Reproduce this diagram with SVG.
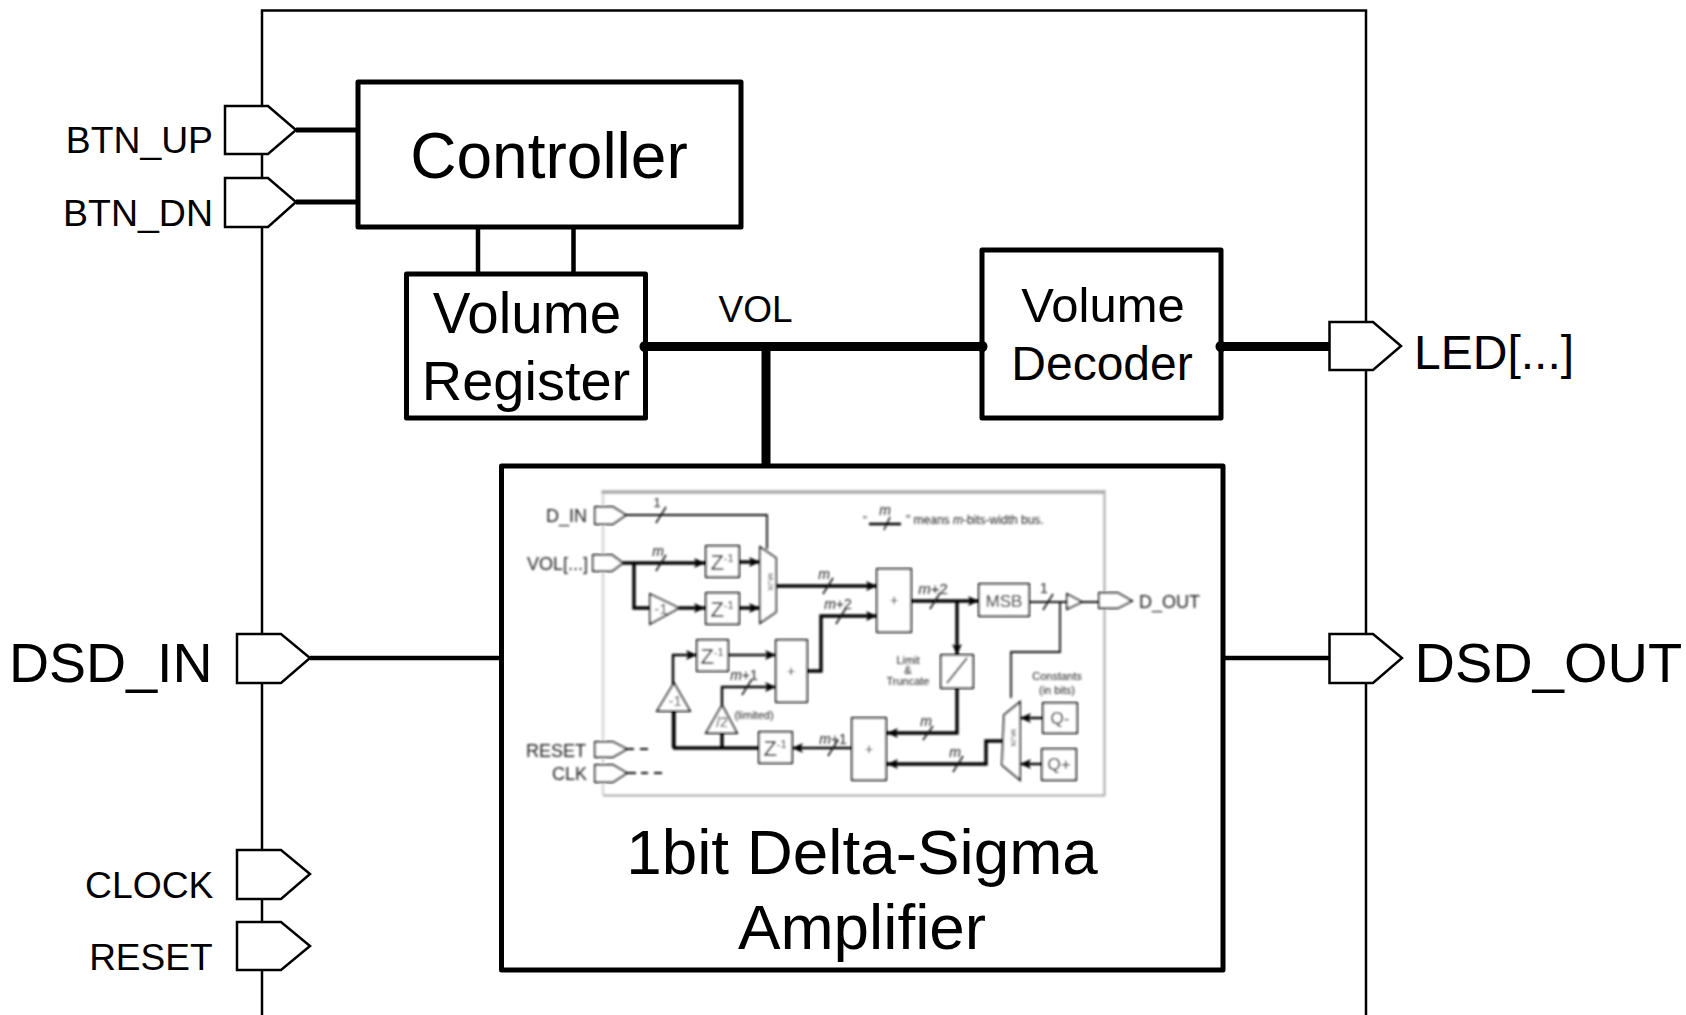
<svg xmlns="http://www.w3.org/2000/svg" width="1686" height="1015" viewBox="0 0 1686 1015">
<style>
text{font-family:"Liberation Sans",Arial,sans-serif;fill:#000}
.box{fill:#fff;stroke:#000;stroke-width:5;stroke-linejoin:round}
.port{fill:#fff;stroke:#000;stroke-width:2.5}
.w{fill:none;stroke:#000;stroke-linecap:butt}
.m{text-anchor:middle}
.e{text-anchor:end}
.ib{fill:#fff;stroke:#111;stroke-width:2}
.ip{fill:#fff;stroke:#111;stroke-width:1.8}
.t{fill:none;stroke:#111;stroke-width:1.8}
.b{fill:none;stroke:#000;stroke-width:3.4}
.a{marker-end:url(#ah)}
.s{fill:none;stroke:#111;stroke-width:1.5}
.lb{fill:#222;font-size:18px}
.sm{fill:#222;font-size:11px}
.mx{fill:#222;font-size:8px;text-anchor:middle}
.zz{fill:#000;font-size:22px;text-anchor:middle}
.zz tspan{font-size:11px}
</style>
<defs>
<marker id="ah" markerUnits="userSpaceOnUse" markerWidth="12" markerHeight="10" refX="11" refY="5" orient="auto"><path d="M0 0L11 5L0 10L2.5 5Z" fill="#000"/></marker>
<filter id="soft" x="-5%" y="-5%" width="110%" height="110%"><feGaussianBlur stdDeviation="1"/></filter>
</defs>
<rect width="1686" height="1015" fill="#fff"/>

<g id="chip-frame"><path d="M262 1015V10.500H1366V1015" fill="none" stroke="#000" stroke-width="2.500"/></g>

<g id="btn-up"><path class="port" d="M225 106H268L296 130L268 154H225Z"/><text x="213" y="153" font-size="37.300" class="e">BTN_UP</text></g>
<g id="btn-dn"><path class="port" d="M225 178H268L296 202L268 227H225Z"/><text x="213" y="226" font-size="37.500" class="e">BTN_DN</text></g>
<g id="dsd-in"><path class="port" d="M237 634H281L310 658L281 683H237Z"/><text x="212.500" y="682" font-size="55.500" class="e">DSD_IN</text></g>
<g id="clock"><path class="port" d="M237 850H281L310 874L281 899H237Z"/><text x="213.500" y="898" font-size="37.300" class="e">CLOCK</text></g>
<g id="reset"><path class="port" d="M237 922H281L310 946L281 970H237Z"/><text x="212.500" y="970" font-size="37" class="e">RESET</text></g>
<g id="led"><path class="port" d="M1329.500 322H1373L1401 346L1373 370H1329.500Z"/><text x="1414" y="369" font-size="48">LED[...]</text></g>
<g id="dsd-out"><path class="port" d="M1329.500 634H1373L1402 658L1373 683H1329.500Z"/><text x="1414.500" y="682" font-size="56">DSD_OUT</text></g>

<g id="controller"><rect class="box" x="358" y="82" width="383" height="145"/><text x="549" y="178" font-size="64" class="m">Controller</text></g>
<g id="volume-register"><rect class="box" x="406.500" y="274" width="239" height="144"/><text x="527" y="333" font-size="56.500" class="m">Volume</text><text x="526" y="400" font-size="56" class="m">Register</text></g>
<g id="vol-label"><text x="718.500" y="322" font-size="37">VOL</text></g>
<g id="volume-decoder"><rect class="box" x="982" y="250" width="239" height="168"/><text x="1103" y="322" font-size="49" class="m">Volume</text><text x="1102" y="380" font-size="48" class="m">Decoder</text></g>

<g id="amplifier"><rect class="box" x="501.500" y="466" width="721.500" height="504"/>
<text x="862" y="873.500" font-size="63.800" class="m">1bit Delta-Sigma</text><text x="862" y="949" font-size="63.800" class="m">Amplifier</text></g>

<g id="connectors">
<path class="w" stroke-width="5" d="M296 130H358M296 202H358"/>
<path class="w" stroke-width="4.500" d="M478 227V274M573.500 227V274"/>
<path class="w" stroke-width="9" d="M645 346.500H982M1221 346.500H1330M766 346V466"/>
<circle cx="645" cy="346.500" r="5.500"/><circle cx="982" cy="346.500" r="5.500"/><circle cx="1221" cy="346.500" r="5.500"/>
<path class="w" stroke-width="4.500" d="M310 658H501M1223 658H1330"/>
</g>

<g id="amplifier-detail" filter="url(#soft)">
<path d="M603 492V795" fill="none" stroke="#ddd" stroke-width="3"/>
<path d="M601.500 492H1104" fill="none" stroke="#aaa" stroke-width="3.500"/>
<path d="M603 795.500H1104.500V490" fill="none" stroke="#aaa" stroke-width="2"/>

<path class="t" d="M626 515H767V549"/>
<path class="b a" d="M623 563H705"/>
<path class="b" d="M634 563V608H650"/>
<path class="b a" d="M679 608H705"/>
<path class="b a" d="M739 562H760"/>
<path class="b a" d="M739 608H760"/>
<path class="b a" d="M776 586H877"/>
<path class="b a" d="M807 671H821V616H877"/>
<path class="t a" d="M728 655H776" style="stroke-width:2.400"/>
<path class="b a" d="M673 748V655H697" style="stroke-width:2.400"/>
<path class="b a" d="M722 705V687H776" style="stroke-width:2.400"/>
<path class="b" d="M673 748H759M674 711V748M722 733V748"/>
<path class="b a" d="M852 748H792" style="stroke-width:2.600"/>
<path class="b a" d="M911 601H979"/>
<path class="b a" d="M957 601V655"/>
<path class="b a" d="M957 688V733H887"/>
<path class="b a" d="M1003 741H986V764H887"/>
<path class="t" d="M1029 602H1067M1060 602V652H1011V698M1082 602H1099"/>
<path class="b a" d="M1043 718H1020" style="stroke-width:2.400"/>
<path class="b a" d="M1042 764H1020" style="stroke-width:2.400"/>
<path class="t" d="M627 749H634M640 749H648M627 773H636M641 773H648M654 773H662"/>
<path class="b" d="M869 524H901" style="stroke-width:2.600"/>

<path class="s" d="M656 523L666 507M656 571L666 555M823 594L833 578M836 624L846 608M930 609L940 593M1043 610L1053 594M923 740L933 726M953 772L963 756M828 756L838 740M742 695L752 679M884 530L890 517"/>

<path class="ip" d="M595 507H613L626 515L613 524H595Z"/>
<path class="ip" d="M593 555H612L623 563L612 571H593Z"/>
<path class="ip" d="M595 742H613L627 749L613 757H595Z"/>
<path class="ip" d="M595 765H613L627 773L613 782H595Z"/>
<path class="ip" d="M1099 593H1118L1132 601L1118 608H1099Z"/>
<path class="ip" d="M1067 594L1082 602L1067 609Z"/>
<path class="ip" d="M650 594L679 608L650 624Z"/>
<path class="ip" d="M674 683L690 711H657Z"/>
<path class="ip" d="M722 705L737 733H706Z"/>
<path class="ip" d="M760 547L776 558V612L760 623Z"/>
<path class="ip" d="M1020 702V780L1002 765L1004 715Z"/>
<rect class="ib" x="706" y="546" width="33" height="31"/>
<rect class="ib" x="706" y="593" width="33" height="31"/>
<rect class="ib" x="697" y="640" width="31" height="31"/>
<rect class="ib" x="759" y="732" width="33" height="31"/>
<rect class="ib" x="776" y="640" width="31" height="62"/>
<rect class="ib" x="877" y="569" width="34" height="63"/>
<rect class="ib" x="852" y="718" width="34" height="62"/>
<rect class="ib" x="979" y="584" width="50" height="32"/>
<rect class="ib" x="941" y="655" width="32" height="33"/>
<path class="t" d="M947 683L967 658"/>
<rect class="ib" x="1043" y="703" width="34" height="30"/>
<rect class="ib" x="1042" y="749" width="34" height="31"/>

<text x="722" y="570" class="zz">Z<tspan dy="-8">-1</tspan></text>
<text x="722" y="617" class="zz">Z<tspan dy="-8">-1</tspan></text>
<text x="712" y="664" class="zz">Z<tspan dy="-8">-1</tspan></text>
<text x="775" y="756" class="zz">Z<tspan dy="-8">-1</tspan></text>
<text x="791" y="676" class="sm m" style="font-size:14px">+</text>
<text x="894" y="605" class="sm m" style="font-size:14px">+</text>
<text x="869" y="754" class="sm m" style="font-size:14px">+</text>
<text x="1004" y="607" class="lb m" style="font-size:17px;fill:#000">MSB</text>
<text x="1060" y="724" class="lb m" style="font-size:17px;fill:#000">Q-</text>
<text x="1059" y="770" class="lb m" style="font-size:17px;fill:#000">Q+</text>
<text x="661" y="614" class="sm m" style="font-size:15px">-1</text>
<text x="675" y="706" class="sm m" style="font-size:14px">-1</text>
<text x="722" y="727" class="sm m" style="font-size:14px">/2</text>
<text x="768" y="582" class="mx" transform="rotate(90 768 582)">MUX</text>
<text x="1011" y="738" class="mx" transform="rotate(90 1011 738)">MUX</text>

<text x="587" y="522" class="lb e">D_IN</text>
<text x="588" y="570" class="lb e">VOL[...]</text>
<text x="586" y="757" class="lb e">RESET</text>
<text x="587" y="780" class="lb e">CLK</text>
<text x="1139" y="608" class="lb">D_OUT</text>
<text x="657" y="507" class="sm m" style="font-size:13px">1</text>
<text x="658" y="556" class="sm m" font-style="italic" style="font-size:14px">m</text>
<text x="824" y="579" class="sm m" font-style="italic" style="font-size:14px">m</text>
<text x="838" y="609" class="sm m" style="font-size:14px"><tspan font-style="italic">m</tspan>+2</text>
<text x="933" y="594" class="lb m" style="font-size:15px"><tspan font-style="italic">m</tspan>+2</text>
<text x="1044" y="593" class="sm m" style="font-size:14px">1</text>
<text x="744" y="680" class="sm m" style="font-size:14px"><tspan font-style="italic">m</tspan>+1</text>
<text x="833" y="744" class="sm m" style="font-size:14px"><tspan font-style="italic">m</tspan>+1</text>
<text x="926" y="726" class="sm m" font-style="italic" style="font-size:14px">m</text>
<text x="955" y="757" class="sm m" font-style="italic" style="font-size:14px">m</text>
<text x="885" y="515" class="sm m" font-style="italic" style="font-size:14px">m</text>
<text x="754" y="719" class="sm m">(limited)</text>
<text x="908" y="664" class="sm m">Limit</text>
<text x="908" y="674" class="sm m">&amp;</text>
<text x="908" y="685" class="sm m">Truncate</text>
<text x="1057" y="680" class="sm m">Constants</text>
<text x="1057" y="694" class="sm m">(in bits)</text>
<text x="863" y="524" class="sm">"</text>
<text x="906" y="524" class="sm" style="font-size:12px">" means <tspan font-style="italic">m</tspan>-bits-width bus.</text>
</g>
</svg>
